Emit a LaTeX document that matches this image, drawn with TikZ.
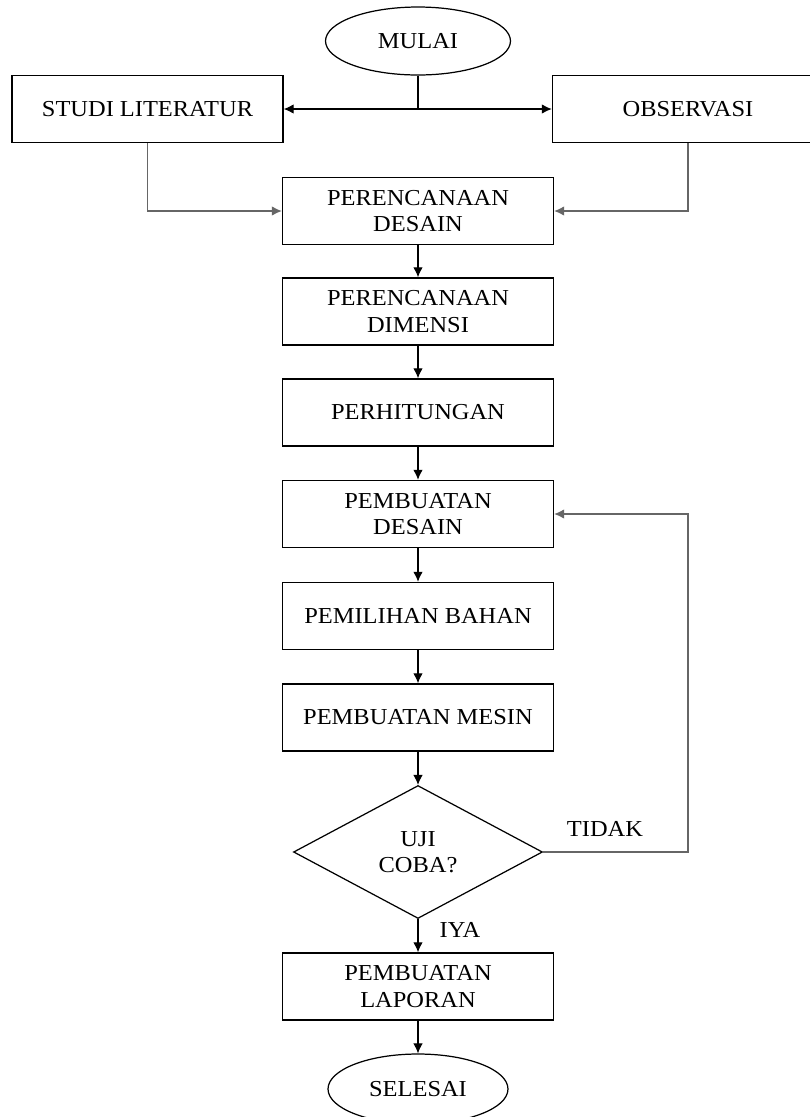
\documentclass[tikz,border=0pt]{standalone}
\usepackage{fontspec}
\setmainfont{Liberation Serif}[FakeStretch=1.07]
\usetikzlibrary{arrows.meta,shapes.geometric}

\begin{document}
\begin{tikzpicture}[x=0.02cm,y=-0.02cm,font=\fontsize{13}{15}\selectfont,>={Latex[length=2mm,width=1.9mm]},
  proses/.style={draw,line width=0.85pt,minimum width=5.42cm,minimum height=1.34cm,align=center,inner sep=2pt},
  terminal/.style={draw,ellipse,line width=0.7pt,minimum width=3.7cm,minimum height=1.36cm,inner sep=0pt},
  keputusan/.style={draw,diamond,line width=0.7pt,minimum width=4.98cm,minimum height=2.66cm,align=center,inner sep=0pt},
  garis/.style={line width=0.6pt},
  panah/.style={garis,->},
  balik/.style={panah,gray!80!black}]
\clip (0,0) rectangle (810,1117);
\node[terminal] (mulai) at (418,41) {MULAI};
\node[proses] (studi) at (147.5,109) {STUDI LITERATUR};
\node[proses] (obs) at (688,109) {OBSERVASI};
\node[proses] (pdesain) at (418,211) {PERENCANAAN\\DESAIN};
\node[proses] (pdimensi) at (418,311.5) {PERENCANAAN\\DIMENSI};
\node[proses] (hitung) at (418,412.5) {PERHITUNGAN};
\node[proses] (bdesain) at (418,514) {PEMBUATAN\\DESAIN};
\node[proses] (bahan) at (418,616) {PEMILIHAN BAHAN};
\node[proses] (mesin) at (418,717.5) {PEMBUATAN MESIN};
\node[keputusan] (uji) at (418,852) {UJI\\COBA?};
\node[proses] (laporan) at (418,986.5) {PEMBUATAN\\LAPORAN};
\node[terminal,minimum width=3.6cm,minimum height=1.4cm] (selesai) at (418,1089) {SELESAI};
\node[inner sep=0pt] (tidak) at (605,829) {TIDAK};
\node[inner sep=0pt] (iya) at (460,930) {IYA};
% cabang awal
\coordinate (cabang) at (mulai.south |- studi.east);
\draw[garis] (mulai.south) -- (cabang);
\draw[panah] (cabang) -- (studi.east);
\draw[panah] (cabang) -- (obs.west);
\draw[balik] (studi.south) |- (pdesain.west);
\draw[balik] (obs.south) |- (pdesain.east);
% alur utama
\draw[panah] (pdesain) -- (pdimensi);
\draw[panah] (pdimensi) -- (hitung);
\draw[panah] (hitung) -- (bdesain);
\draw[panah] (bdesain) -- (bahan);
\draw[panah] (bahan) -- (mesin);
\draw[panah] (mesin) -- (uji);
\draw[panah] (uji) -- (laporan);
\draw[panah] (laporan) -- (selesai);
% ulang jika gagal
\draw[balik] (uji.east) -- (uji.east -| obs.south) |- (bdesain.east);
\end{tikzpicture}
\end{document}
